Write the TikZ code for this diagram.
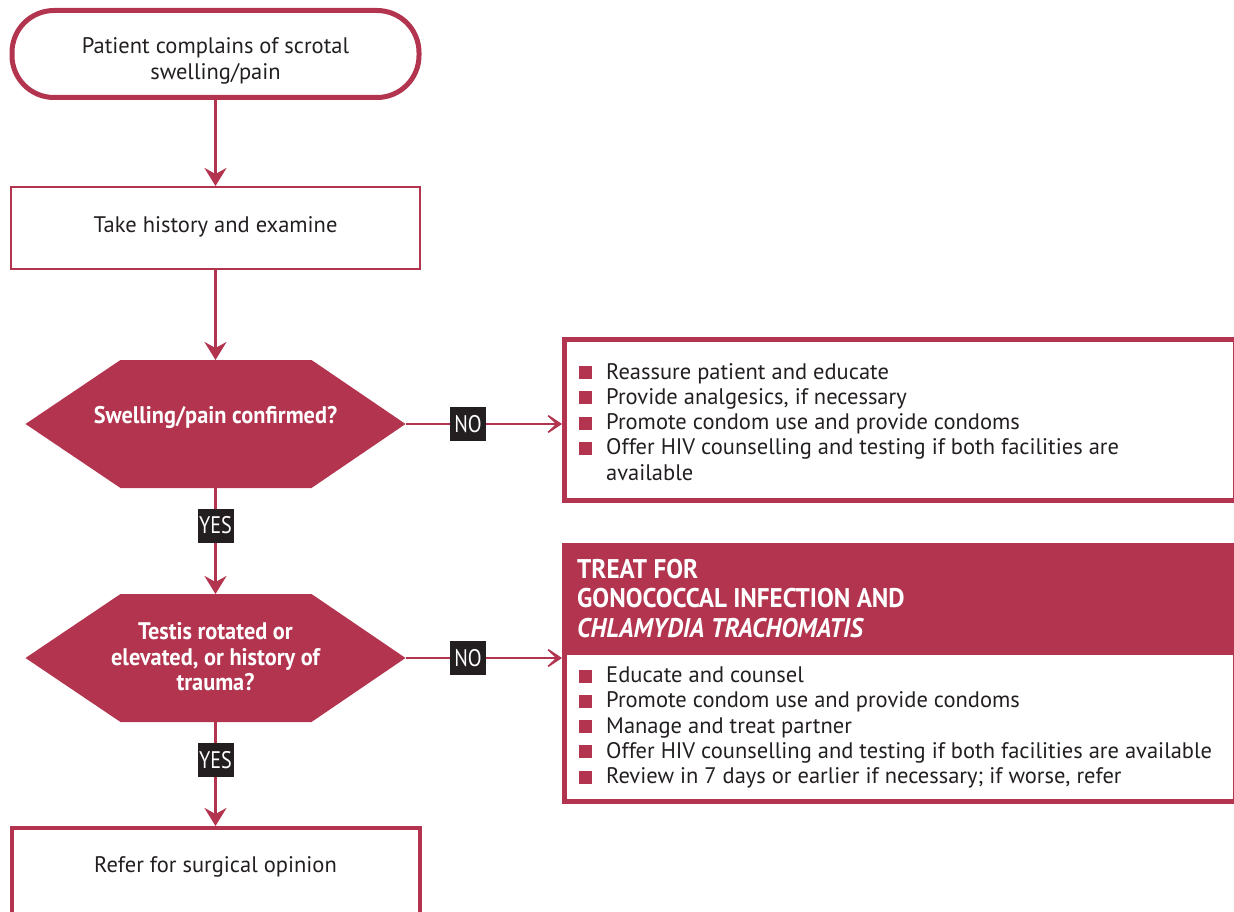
\documentclass[tikz,border=0pt]{standalone}
\usepackage{fontspec}
\setmainfont{PT Sans}
\newfontfamily\condfont{PT Sans}[FakeStretch=0.93]
\newfontfamily\labfont{PT Sans}[FakeStretch=0.84]
\usetikzlibrary{arrows.meta,calc}
\definecolor{crim}{RGB}{179,52,79}
\definecolor{ink}{RGB}{35,31,32}
\newcommand{\sqb}{\textcolor{crim}{\rule{13pt}{13pt}}}
\begin{document}
\begin{tikzpicture}[x=1pt,y=-1pt,
  box/.style={draw=crim, rectangle, inner sep=0pt},
  hexnode/.style={rectangle, draw=none, inner sep=0pt, outer sep=0pt, minimum width=380pt, minimum height=128pt},
  txt/.style={text=ink, inner sep=0pt, font=\fontsize{22.5}{26}\selectfont, align=center},
  qtxt/.style={text=white, inner sep=0pt, font=\condfont\bfseries\fontsize{24}{25.5}\selectfont, align=center},
  conn/.style={draw=crim, line width=2.5pt},
  vhead/.style={-{Stealth[length=18pt,width=22pt,inset=6pt]}},
  hhead/.style={-{Stealth[length=21pt,width=28pt,inset=15pt]}},
  lab/.style={fill=ink, text=white, font=\labfont\fontsize{24}{24}\selectfont, minimum width=36pt, minimum height=34pt, inner sep=0pt},
  list/.style={text=ink, inner sep=0pt, anchor=base west, font=\fontsize{22.5}{25.25}\selectfont}
]
\useasboundingbox (0,0) rectangle (1234,912);

% start
\node[box, line width=5pt, minimum width=407pt, minimum height=87pt, rounded corners=42pt] (s) at (215.5,54) {};
\node[txt] (st) at (215.5,61) {Patient complains of scrotal\\swelling/pain};

% history
\node[box, line width=2pt, minimum width=409pt, minimum height=82pt] (b2) at (215.5,228) {};
\node[txt] (b2t) at (215.5,227) {Take history and examine};

% question 1
\node[hexnode] (q1) at (215.5,424) {};
\fill[crim] (q1.west) -- ([xshift=95pt]q1.north west) -- ([xshift=-94pt]q1.north east) -- (q1.east)
  -- ([xshift=-94pt]q1.south east) -- ([xshift=95pt]q1.south west) -- cycle;
\node[qtxt] (q1t) at (215.5,417) {Swelling/pain confirmed?};

% question 2
\node[hexnode] (q2) at (215.5,658) {};
\fill[crim] (q2.west) -- ([xshift=95pt]q2.north west) -- ([xshift=-94pt]q2.north east) -- (q2.east)
  -- ([xshift=-94pt]q2.south east) -- ([xshift=95pt]q2.south west) -- cycle;
\node[qtxt] (q2t) at (215.5,657) {Testis rotated or\\elevated, or history of\\trauma?};

% box 3
\node[box, line width=5pt, minimum width=670.5pt, minimum height=161pt] (b3) at (899.75,420) {};
\node[list] (b3t) at (579,379) {\begin{tabular}[t]{@{}l@{\hspace{14pt}}l@{}}
\sqb & Reassure patient and educate\\
\sqb & Provide analgesics, if necessary\\
\sqb & Promote condom use and provide condoms\\
\sqb & Offer HIV counselling and testing if both facilities are\\
 & available
\end{tabular}};

% box 4
\node[box, line width=5pt, minimum width=670.5pt, minimum height=256pt] (b4) at (899.75,673.5) {};
\coordinate (hb) at (1240,655);
\fill[crim] (b4.north west) rectangle (hb);
\node[list, text=white, font=\condfont\bfseries\fontsize{27}{29.5}\selectfont] (b4h) at (577,578) {\begin{tabular}[t]{@{}l@{}}
TREAT FOR\\
GONOCOCCAL INFECTION AND\\
\textit{CHLAMYDIA TRACHOMATIS}
\end{tabular}};
\node[list] (b4t) at (579,682.5) {\begin{tabular}[t]{@{}l@{\hspace{14pt}}l@{}}
\sqb & Educate and counsel\\
\sqb & Promote condom use and provide condoms\\
\sqb & Manage and treat partner\\
\sqb & Offer HIV counselling and testing if both facilities are available\\
\sqb & Review in 7 days or earlier if necessary; if worse, refer
\end{tabular}};

% box 5
\node[box, line width=4pt, minimum width=408pt, minimum height=92pt] (b5) at (215.5,874) {};
\node[txt] (b5t) at (215.5,867) {Refer for surgical opinion};

% connectors
\draw[conn, vhead] (s.south) -- (b2.north);
\draw[conn, vhead] (b2.south) -- (q1.north);
\draw[conn, vhead] (q1.south) -- node[lab, pos=0.354] (y1) {YES} (q2.north);
\draw[conn, vhead] (q2.south) -- node[lab, pos=0.365] (y2) {YES} (b5.north);
\draw[conn, hhead] (q1.east) -- node[lab, pos=0.40] (n1) {NO} (q1.east -| b3.west);
\draw[conn, hhead] (q2.east) -- node[lab, pos=0.40] (n2) {NO} (q2.east -| b4.west);
\end{tikzpicture}
\end{document}
